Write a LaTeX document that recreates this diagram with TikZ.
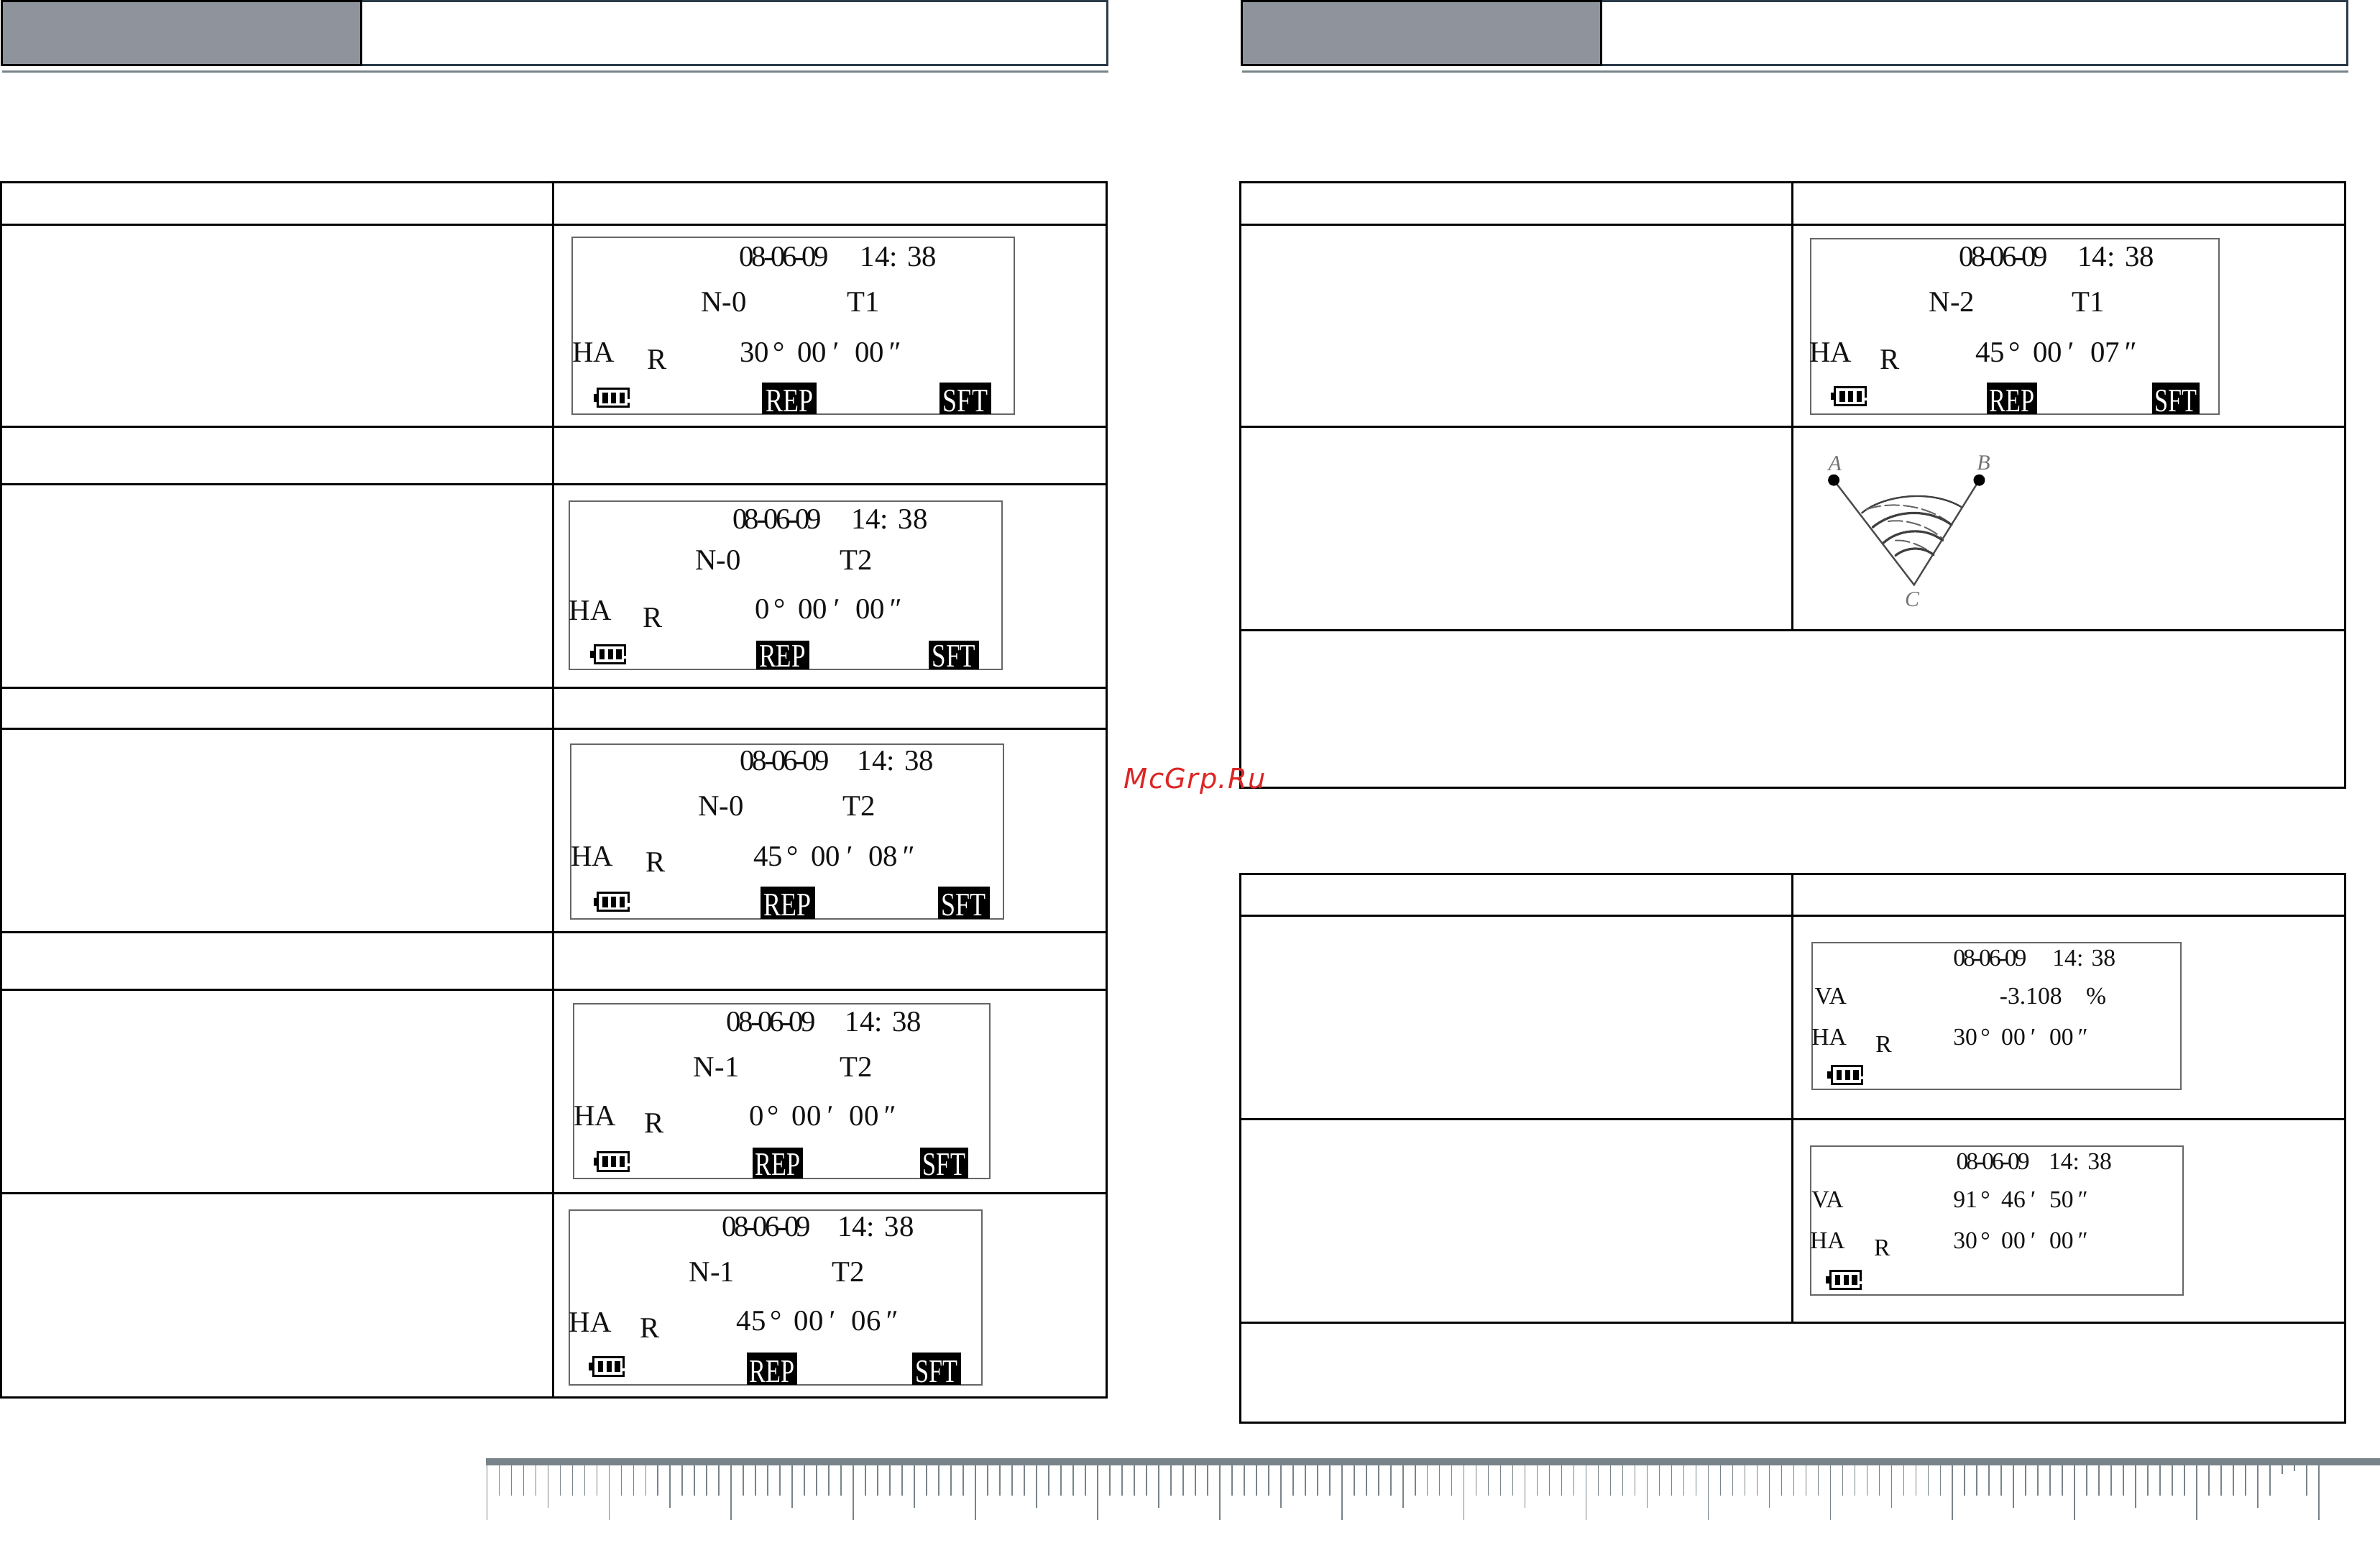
\documentclass[tikz,border=0pt]{standalone}
\usepackage{fontspec}
\usepackage{graphicx}
\setmainfont{Liberation Serif}
\newfontfamily\wmfont[LetterSpace=3.5]{DejaVu Sans Oblique}
\definecolor{hdrgray}{HTML}{8F939B}
\definecolor{hdrnavy}{HTML}{2A3B4A}
\definecolor{rulegray}{HTML}{78848A}
\definecolor{lcdedge}{HTML}{666666}
\definecolor{textdark}{HTML}{101010}
\definecolor{wmred}{HTML}{DC2626}
\tikzset{
  tableline/.style={line width=0.75pt,black},
  lcdbox/.style={draw=lcdedge,line width=0.5pt},
  lcdtxt/.style={inner sep=0pt,anchor=base,text=textdark},
  lcdleft/.style={inner sep=0pt,anchor=base west,text=textdark},
  keybg/.style={fill=black,draw=none},
  keytxt/.style={inner sep=0pt,anchor=base,text=white},
  battline/.style={draw=black,line width=0.75pt}
}
\newcommand\fsz{\fontsize{10.2}{12}\selectfont}
\newcommand\fsm{\fontsize{8.4}{10}\selectfont}
\newlength\fldw
\setlength\fldw{20pt}
\newcommand\lcdoff{6.3}
\newcommand\lcdfont{\fsz}
\newcommand\datetxt{{\addfontfeature{LetterSpace=-9}08-06-09}}
% text centred at (x,y)
\newcommand\lt[3]{\node[lcdtxt,font=\lcdfont] at (#1,#2+\lcdoff) {#3};}
% date and time
\newcommand\datetime[3]{\lt{#1}{#3}{\datetxt}\lt{#2}{#3}{14: 38}}
% angle, x = left of the two digit slot
\newcommand\angtxt[5]{\node[lcdleft,font=\lcdfont] at (#1,#2+\lcdoff) {\makebox[\fldw][l]{\makebox[1em][r]{#3}\hspace{.13em}°}\makebox[\fldw][l]{#4\hspace{.15em}\textit{′}}#5\hspace{.12em}\textit{″}};}
\newcommand\batt[2]{%
  \begin{scope}[shift={(#1,#2)}]
    \draw[battline] (-9,-6) rectangle (11,6);
    \fill[black] (-12,-2.5) rectangle (-9,2.5);
    \fill[white] (9.6,1) rectangle (12.4,3);
    \fill[black] (-6,-3.5) rectangle (-2.5,3.5);
    \fill[black] (-0.5,-3.5) rectangle (3,3.5);
    \fill[black] (5,-3.5) rectangle (8.5,3.5);
  \end{scope}}
\newcommand\keyb[6]{\fill[keybg] (#1,#3) rectangle (#2,#4);
  \node[keytxt,font=\fontsize{11.4}{13}\selectfont] at ({(#1+#2)/2},#4-1.8) {\scalebox{#6}[1]{#5}};}
\begin{document}
\begin{tikzpicture}[x=0.5279pt,y=-0.5279pt]
\useasboundingbox (0,0) rectangle (1568,1024.8);
% ---- page headers
\foreach \ox in {0,817}{
  \begin{scope}[shift={(\ox,0)}]
    \draw[draw=hdrnavy,line width=0.75pt,fill=white] (238,0.7) rectangle (729.5,43);
    \draw[draw=black,line width=0.75pt,fill=hdrgray] (1,0.7) rectangle (238,43);
    \fill[rulegray] (1.5,46.4) rectangle (730,47.9);
  \end{scope}
}
% ---- left table
\draw[tableline] (0.5,120) rectangle (729,920.5);
\foreach \yy in {148,281,319,453,480,614,652,786}{\draw[tableline] (0.5,\yy) -- (729,\yy);}
\draw[tableline] (364.5,120) -- (364.5,920.5);
% ---- right table 1
\draw[tableline] (817,120) rectangle (1545,519);
\foreach \yy in {148,281,415}{\draw[tableline] (817,\yy) -- (1545,\yy);}
\draw[tableline] (1181,120) -- (1181,415);
% ---- right table 2
\draw[tableline] (817,575.5) rectangle (1545,937);
\foreach \yy in {603,737,871}{\draw[tableline] (817,\yy) -- (1545,\yy);}
\draw[tableline] (1181,575.5) -- (1181,871);
% ---- panel 1
\draw[lcdbox] (377,156.5) rectangle (668,273);
\datetime{516.5}{592}{169}
\lt{477}{199}{N-0}\lt{569}{199}{T1}
\lt{391}{232}{HA}\lt{433}{237}{R}
\angtxt{487}{232}{30}{00}{00}
\batt{403}{262}
\keyb{502}{538}{252}{273}{REP}{0.79}
\keyb{619}{653}{252}{273}{SFT}{0.79}
% ---- panel 2
\draw[lcdbox] (375,330) rectangle (660,441);
\datetime{512}{586}{342}
\lt{473}{369}{N-0}\lt{564}{369}{T2}
\lt{389}{402}{HA}\lt{430}{407}{R}
\angtxt{487.5}{401}{0}{00}{00}
\batt{401}{431}
\keyb{498}{533}{422}{441}{REP}{0.77}
\keyb{612}{645}{422}{441}{SFT}{0.77}
% ---- panel 3
\draw[lcdbox] (376,490) rectangle (661,605);
\datetime{517}{590}{501}
\lt{475}{531}{N-0}\lt{566}{531}{T2}
\lt{390}{564}{HA}\lt{432}{568}{R}
\angtxt{496}{564}{45}{00}{08}
\batt{403}{594}
\keyb{501}{537}{584}{605}{REP}{0.79}
\keyb{618}{652}{584}{605}{SFT}{0.79}
% ---- panel 4
\draw[lcdbox] (378,661) rectangle (652,776);
\datetime{508}{582}{673}
\lt{472}{703}{N-1}\lt{564}{703}{T2}
\lt{392}{735}{HA}\lt{431}{740}{R}
\angtxt{483.5}{735}{0}{00}{00}
\batt{403}{765}
\keyb{496}{529}{756}{776}{REP}{0.75}
\keyb{606}{638}{756}{776}{SFT}{0.75}
% ---- panel 5
\draw[lcdbox] (375,797) rectangle (647,912);
\datetime{505}{577}{808}
\lt{469}{838}{N-1}\lt{559}{838}{T2}
\lt{389}{871}{HA}\lt{428}{875}{R}
\angtxt{485}{870}{45}{00}{06}
\batt{400}{900}
\keyb{492}{525}{891}{912}{REP}{0.75}
\keyb{601}{633}{891}{912}{SFT}{0.75}
% ---- panel 6
\draw[lcdbox] (1193,157) rectangle (1462,273);
\datetime{1320}{1394}{169}
\lt{1286}{199}{N-2}\lt{1376}{199}{T1}
\lt{1206}{232}{HA}\lt{1245}{237}{R}
\angtxt{1301}{232}{45}{00}{07}
\batt{1218}{261}
\keyb{1309}{1342}{252}{273}{REP}{0.75}
\keyb{1418}{1449}{252}{273}{SFT}{0.75}
% ---- panels 7 and 8, smaller type
\renewcommand\lcdfont{\fsm}
\renewcommand\lcdoff{5.2}
\setlength\fldw{16.7pt}
\draw[lcdbox] (1194,621) rectangle (1437,717.5);
\datetime{1311}{1373}{631}
\lt{1206}{656}{VA}\lt{1338}{656}{-3.108}\lt{1381}{656}{\%}
\lt{1205}{683}{HA}\lt{1241}{688}{R}
\angtxt{1286.5}{683}{30}{00}{00}
\batt{1216}{708}
\draw[lcdbox] (1193,755) rectangle (1438,853);
\datetime{1313}{1370.5}{765}
\lt{1204}{790}{VA}
\angtxt{1286.5}{790}{91}{46}{50}
\lt{1204}{817}{HA}\lt{1240}{822}{R}
\angtxt{1286.5}{817}{30}{00}{00}
\batt{1215}{843}
% ---- sector sketch
\begin{scope}[shift={(1174.5,274.7)},x=0.08333pt,y=-0.08333pt,line cap=round]
  \tikzset{arcsolid/.style={draw=black!75,line width=0.6pt},arcdash/.style={draw=black!60,line width=0.5pt,dash pattern=on 5pt off 1.5pt}}
  \coordinate (ptA) at (213,263);
  \coordinate (ptB) at (820,263);
  \coordinate (ptC) at (548,700);
  \draw[draw=black!70,line width=0.6pt] (ptA) -- (ptC) -- (ptB);
  \fill[black] (ptA) circle (24);
  \fill[black] (ptB) circle (24);
  \draw[arcsolid] (330,400) .. controls (420,325) and (620,300) .. (745,375);
  \draw[arcdash] (350,385) .. controls (450,350) and (600,365) .. (700,445);
  \draw[arcsolid,line width=0.8pt] (375,460) .. controls (460,390) and (600,375) .. (705,450);
  \draw[arcdash] (440,435) .. controls (500,425) and (600,445) .. (670,510);
  \draw[arcsolid,line width=0.8pt] (420,525) .. controls (480,470) and (590,455) .. (668,515);
  \draw[arcdash] (470,515) .. controls (520,510) and (590,540) .. (630,575);
  \draw[arcsolid,line width=0.8pt] (470,578) .. controls (510,545) and (580,535) .. (630,575);
  \node[inner sep=0pt,text=black!55,font=\itshape\fontsize{7.5}{8}\selectfont] (lblA) at (218,195) {A};
  \node[inner sep=0pt,text=black!55,font=\itshape\fontsize{7.5}{8}\selectfont] (lblB) at (838,190) {B};
  \node[inner sep=0pt,text=black!55,font=\itshape\fontsize{7.5}{8}\selectfont] (lblC) at (540,762) {C};
\end{scope}
% ---- ruler
\begin{scope}[x=0.25pt,y=-0.25pt]
  \fill[rulegray] (676,2028) rectangle (3311,2038);
  \foreach \k in {0,...,150}{
    \pgfmathtruncatemacro\mten{mod(\k,10)}
    \pgfmathtruncatemacro\mfive{mod(\k,5)}
    \pgfmathsetmacro\tx{677.4+16.99*\k}
    \ifnum\mten=0 \def\tb{2114}\else\ifnum\mfive=0 \def\tb{2097}\else\def\tb{2080}\fi\fi
    \ifnum\k=147 \def\tb{2050}\fi
    \ifnum\k=148 \def\tb{2046}\fi
    \draw[rulegray,line width=0.4pt] (\tx,2038) -- (\tx,\tb);
  }
\end{scope}
% ---- watermark
\node[inner sep=0pt,anchor=base west,text=wmred,font=\wmfont\fontsize{9.6}{11}\selectfont] (wm) at (740.2,519.5) {McGrp.Ru};
\end{tikzpicture}
\end{document}
